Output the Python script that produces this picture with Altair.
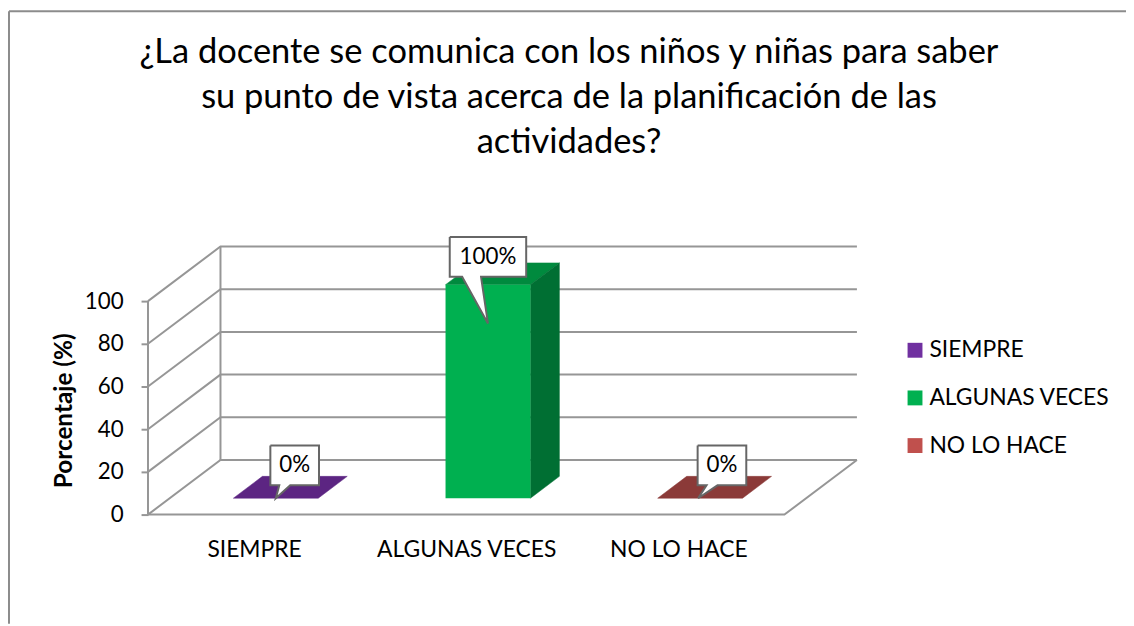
import altair as alt
import pandas as pd

# ---- chart values ----
categories = ["SIEMPRE", "ALGUNAS VECES", "NO LO HACE"]
values = [0, 100, 0]
value_labels = ["0%", "100%", "0%"]
y_ticks = [0, 20, 40, 60, 80, 100]
title_lines = [
    "¿La docente se comunica con los niños y niñas para saber",
    "su punto de vista acerca de la planificación de las",
    "actividades?",
]
front_colors = ["#7030a0", "#00b050", "#c0504d"]
top_colors = ["#5c2582", "#008a3e", "#8b3a38"]
side_colors = ["#4a1e69", "#006f33", "#6f2e2c"]

# ---- 3-D projection (in scale units) ----
W, H = 714, 270
PAD = dict(left=141, top=238, right=271, bottom=110)
UNIT_X = 213.67
UNIT_Y = 2.151
DX = 73 / UNIT_X         # depth shift in category units
DY = 55 / UNIT_Y         # depth shift in percent units
PX = 1 / UNIT_X          # one pixel, x
PY = 1 / UNIT_Y          # one pixel, y
NEAR, FAR = 0.3, 0.7     # bar extent in depth
HALF = 0.2               # half bar width
xs = alt.Scale(domain=[0, 3 + DX], nice=False, zero=False)
ys = alt.Scale(domain=[0, 100 + DY], nice=False, zero=False)

label_expr = (
    "datum.value < 1 ? '%s' : datum.value < 2 ? '%s' : '%s'" % tuple(categories)
)
xa = alt.Axis(
    values=[0.5, 1.5, 2.5], labelExpr=label_expr, title=None, grid=False,
    domain=False, ticks=False, labelPadding=24, labelFont="Lato",
    labelFontSize=23, labelColor="#000000", labelAngle=0, labelLimit=400)
ya = alt.Axis(
    values=y_ticks, title="Porcentaje (%)", grid=False, domain=False,
    tickSize=7, tickColor="#969696", tickWidth=2, labelPadding=18,
    labelFont="Lato", labelFontSize=22.5, labelColor="#000000",
    titleFont="Lato", titleFontSize=24.5, titleFontWeight="bold", titleColor="#000000",
    titleX=-72, titleY=165, titleAnchor="middle")


def enc_x(f):
    return alt.X(f, scale=xs, axis=xa)


def enc_y(f):
    return alt.Y(f, scale=ys, axis=ya)


def proj(x, v, d=0.0):
    return x + d * DX, v + d * DY


def poly(points, fill, stroke, width):
    closed = list(points) + [points[0]]
    df = pd.DataFrame(closed, columns=["x", "y"])
    df["o"] = range(len(df))
    return alt.Chart(df).mark_line(
        fill=fill, stroke=stroke, strokeWidth=width, strokeJoin="miter", clip=False
    ).encode(x=enc_x("x:Q"), y=enc_y("y:Q"), order="o:Q")


def path(points, color="#969696", width=2):
    df = pd.DataFrame(points, columns=["x", "y"])
    df["o"] = range(len(df))
    return alt.Chart(df).mark_line(color=color, strokeWidth=width).encode(
        x=enc_x("x:Q"), y=enc_y("y:Q"), order="o:Q")


layers = []

# walls and floor
for v in y_ticks:
    layers.append(path([proj(0, v), proj(0, v, 1), proj(3, v, 1)]))
layers.append(path([proj(0, 0), proj(0, 100)]))
layers.append(path([proj(0, 0, 1), proj(0, 100, 1)]))
layers.append(path([proj(0, 0), proj(3, 0), proj(3, 0, 1)]))

# bars: front faces carry the legend
rects = []
for i, (c, v) in enumerate(zip(categories, values)):
    x0, y0 = proj(i + 0.5 - HALF, 0, NEAR)
    x1, y1 = proj(i + 0.5 + HALF, v, NEAR)
    rects.append(dict(cat=c, x0=x0, x1=x1, y0=y0, y1=y1))

for i, v in enumerate(values):
    l, r = i + 0.5 - HALF, i + 0.5 + HALF
    layers.append(poly([proj(l, v, NEAR), proj(r, v, NEAR), proj(r, v, FAR), proj(l, v, FAR)],
                       top_colors[i], top_colors[i], 0.5))
    if v > 0:
        layers.append(poly([proj(r, 0, NEAR), proj(r, 0, FAR), proj(r, v, FAR), proj(r, v, NEAR)],
                           side_colors[i], side_colors[i], 0.5))

layers.append(alt.Chart(pd.DataFrame(rects)).mark_rect().encode(
    x=enc_x("x0:Q"),
    x2="x1:Q",
    y=enc_y("y0:Q"),
    y2="y1:Q",
    color=alt.Color("cat:N", sort=categories,
                    scale=alt.Scale(domain=categories, range=front_colors),
                    legend=alt.Legend(
                        title=None, orient="none", legendX=761, legendY=93,
                        symbolType="square", symbolSize=225, symbolStrokeWidth=0,
                        labelFont="Lato", labelFontSize=23, labelColor="#000000",
                        labelLimit=400, labelOffset=3, rowPadding=24, padding=0)),
))

# data-label callouts: offsets (in px) from the bar's front-top centre
box_dx = [19, 0, 22]
box_dy = [33, 28, 33]
box_w = [49, 77, 49]
tip_dx = [0, 0, -2]
tip_dy = [0, -39, 0]
tail_a = [-15.5, -26, -15.5]
tail_b = [-4.5, -7, -4.5]
box_h = 40
texts = []
for i, v in enumerate(values):
    cx, cy = proj(i + 0.5, v, NEAR)
    bx, by = cx + box_dx[i] * PX, cy + box_dy[i] * PY
    hw, hh = box_w[i] / 2 * PX, box_h / 2 * PY
    a = bx + tail_a[i] * PX
    b = bx + tail_b[i] * PX
    tip = (cx + tip_dx[i] * PX, cy + tip_dy[i] * PY)
    layers.append(poly([
        (bx - hw, by + hh), (bx + hw, by + hh), (bx + hw, by - hh),
        (b, by - hh), tip, (a, by - hh), (bx - hw, by - hh),
    ], "#ffffff", "#666666", 2))
    texts.append(dict(x=bx, y=by, t=value_labels[i]))

layers.append(alt.Chart(pd.DataFrame(texts)).mark_text(
    font="Lato", fontSize=22.5, color="#000000", align="center", baseline="middle"
).encode(x=enc_x("x:Q"), y=enc_y("y:Q"), text="t:N"))

# frame of the picture (top and left edges only)
layers.append(alt.Chart(pd.DataFrame({"a": [0]})).mark_rule(color="#8c8c8c", strokeWidth=2).encode(
    x=alt.value(-140), x2=alt.value(985), y=alt.value(-237)))
layers.append(alt.Chart(pd.DataFrame({"a": [0]})).mark_rule(color="#8c8c8c", strokeWidth=2).encode(
    x=alt.value(-140), y=alt.value(-237), y2=alt.value(380)))

chart = alt.layer(*layers).properties(
    width=W,
    height=H,
    padding=PAD,
    autosize=alt.AutoSizeParams(type="none"),
    title=alt.TitleParams(
        text=title_lines, font="Lato", fontSize=34.7, fontWeight="normal",
        color="#000000", anchor="middle", frame="group", dx=67, dy=152, offset=0,
        lineHeight=45.5, baseline="top",
    ),
).configure_view(stroke=None)

chart.save("out.html", embed_options={"renderer": "svg", "actions": False})
